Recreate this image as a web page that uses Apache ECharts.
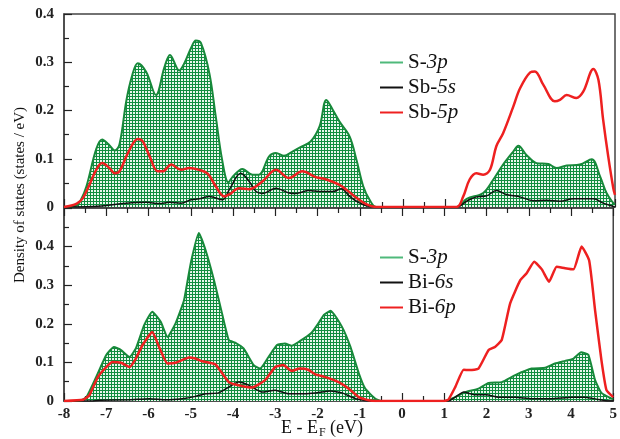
<!DOCTYPE html>
<html><head><meta charset="utf-8">
<script src="https://cdn.jsdelivr.net/npm/echarts@6/dist/echarts.min.js"></script>
<style>html,body{margin:0;padding:0;background:#fff}#c{width:620px;height:439px}</style>
</head><body><div id="c"></div>
<script>
// Top panel (Sb compound)
const topS3p = [[-8,0],[-7.7,0.003],[-7.6,0.015],[-7.47,0.043],[-7.24,0.12],[-7.1,0.14],[-6.95,0.13],[-6.8,0.117],[-6.69,0.13],[-6.53,0.22],[-6.4,0.27],[-6.26,0.298],[-6.06,0.28],[-5.83,0.232],[-5.63,0.29],[-5.5,0.315],[-5.28,0.283],[-5.16,0.298],[-5.0,0.33],[-4.89,0.345],[-4.77,0.34],[-4.57,0.277],[-4.42,0.188],[-4.27,0.098],[-4.12,0.051],[-4.02,0.063],[-3.79,0.079],[-3.55,0.067],[-3.4,0.067],[-3.16,0.105],[-3.0,0.112],[-2.81,0.106],[-2.61,0.115],[-2.42,0.124],[-2.18,0.136],[-1.97,0.167],[-1.81,0.222],[-1.65,0.2],[-1.5,0.177],[-1.26,0.146],[-1.1,0.098],[-0.94,0.043],[-0.79,0.015],[-0.63,0],[1.26,0],[1.5,0.017],[1.89,0.029],[2.13,0.057],[2.36,0.088],[2.6,0.115],[2.72,0.127],[2.91,0.108],[3.15,0.091],[3.43,0.089],[3.62,0.081],[3.86,0.086],[4.17,0.088],[4.45,0.099],[4.65,0.063],[4.8,0.029],[4.96,0.008],[5,0.005]];
const topSb5s = [[-8,0],[-7.3,0.001],[-6.53,0.008],[-6.06,0.01],[-5.75,0.007],[-5.51,0.01],[-5.24,0.008],[-5.0,0.015],[-4.81,0.017],[-4.57,0.022],[-4.26,0.015],[-4.1,0.036],[-3.83,0.07],[-3.63,0.053],[-3.47,0.032],[-3.32,0.028],[-3.0,0.039],[-2.69,0.029],[-2.53,0.028],[-2.22,0.034],[-1.98,0.032],[-1.65,0.032],[-1.46,0.038],[-1.26,0.022],[-1.02,0.008],[-0.71,0],[1.26,0],[1.5,0.012],[1.73,0.021],[1.97,0.023],[2.2,0.034],[2.44,0.026],[2.76,0.021],[3.07,0.013],[3.39,0.014],[3.7,0.012],[4.02,0.017],[4.49,0.017],[4.72,0.008],[4.96,0.001],[5,0]];
const topSb5p = [[-8,0],[-7.7,0.007],[-7.55,0.019],[-7.4,0.046],[-7.24,0.077],[-7.1,0.091],[-6.93,0.081],[-6.8,0.07],[-6.69,0.074],[-6.49,0.112],[-6.26,0.141],[-6.14,0.136],[-5.98,0.105],[-5.79,0.074],[-5.67,0.074],[-5.47,0.088],[-5.24,0.077],[-5.04,0.081],[-4.81,0.077],[-4.61,0.069],[-4.42,0.043],[-4.22,0.022],[-4.1,0.026],[-3.87,0.039],[-3.63,0.037],[-3.32,0.053],[-3.0,0.077],[-2.69,0.06],[-2.38,0.074],[-2.06,0.062],[-1.81,0.057],[-1.5,0.046],[-1.34,0.036],[-1.1,0.019],[-0.87,0.006],[-0.63,0],[1.26,0],[1.42,0.022],[1.57,0.057],[1.73,0.07],[1.89,0.067],[2.05,0.077],[2.2,0.126],[2.36,0.153],[2.6,0.208],[2.76,0.246],[3.0,0.279],[3.11,0.281],[3.31,0.253],[3.58,0.219],[3.7,0.222],[3.86,0.232],[4.09,0.226],[4.25,0.239],[4.49,0.286],[4.61,0.263],[4.72,0.181],[4.84,0.105],[4.96,0.039],[5,0.025]];
// Bottom panel (Bi compound)
const botS3p = [[-8,0],[-7.63,0],[-7.47,0.01],[-7.24,0.062],[-7.0,0.119],[-6.82,0.14],[-6.65,0.132],[-6.45,0.114],[-6.3,0.136],[-6.1,0.197],[-5.91,0.231],[-5.71,0.205],[-5.55,0.166],[-5.36,0.201],[-5.16,0.261],[-5.0,0.357],[-4.81,0.435],[-4.65,0.391],[-4.45,0.313],[-4.26,0.227],[-4.1,0.158],[-3.95,0.151],[-3.75,0.136],[-3.51,0.093],[-3.36,0.084],[-3.16,0.114],[-2.96,0.145],[-2.77,0.149],[-2.61,0.143],[-2.42,0.155],[-2.14,0.177],[-1.98,0.201],[-1.85,0.223],[-1.69,0.234],[-1.42,0.192],[-1.22,0.14],[-1.02,0.071],[-0.87,0.032],[-0.63,0.006],[-0.47,0],[1.02,0],[1.26,0.01],[1.5,0.023],[1.81,0.032],[2.05,0.047],[2.36,0.049],[2.68,0.067],[3.07,0.084],[3.39,0.086],[3.62,0.097],[3.86,0.104],[4.06,0.11],[4.24,0.126],[4.41,0.12],[4.57,0.054],[4.72,0.021],[4.96,0.006],[5,0.005]];
const botBi6s = [[-8,0],[-7.3,0],[-7.16,0.002],[-6.45,0.003],[-5.98,0.006],[-5.59,0.003],[-5.2,0.006],[-4.89,0.012],[-4.65,0.019],[-4.34,0.021],[-4.1,0.036],[-3.87,0.049],[-3.63,0.041],[-3.32,0.023],[-3.0,0.028],[-2.69,0.019],[-2.3,0.019],[-2.05,0.021],[-1.69,0.026],[-1.42,0.021],[-1.1,0.006],[-0.79,0],[1.1,0],[1.26,0.01],[1.46,0.023],[1.73,0.016],[2.0,0.016],[2.28,0.01],[2.68,0.01],[3.07,0.006],[3.54,0.006],[4.02,0.01],[4.33,0.01],[4.65,0.004],[4.88,0],[5,0]];
const botBi6p = [[-8,0],[-7.55,0.003],[-7.4,0.015],[-7.2,0.062],[-7.0,0.088],[-6.85,0.101],[-6.65,0.099],[-6.45,0.088],[-6.3,0.11],[-6.14,0.145],[-5.91,0.179],[-5.75,0.14],[-5.55,0.097],[-5.36,0.099],[-5.04,0.113],[-4.89,0.11],[-4.73,0.103],[-4.42,0.095],[-4.1,0.049],[-3.87,0.041],[-3.55,0.035],[-3.24,0.054],[-3.0,0.088],[-2.81,0.093],[-2.61,0.078],[-2.42,0.084],[-2.22,0.081],[-2.05,0.069],[-1.81,0.062],[-1.5,0.049],[-1.26,0.032],[-1.02,0.01],[-0.79,0.002],[-0.63,0],[0.98,0],[1.1,0.004],[1.26,0.036],[1.46,0.081],[1.61,0.08],[1.81,0.084],[2.05,0.132],[2.2,0.14],[2.36,0.158],[2.56,0.253],[2.8,0.313],[2.95,0.331],[3.13,0.361],[3.31,0.341],[3.48,0.309],[3.66,0.348],[3.86,0.344],[4.06,0.341],[4.25,0.4],[4.43,0.364],[4.57,0.235],[4.72,0.106],[4.84,0.028],[5.0,0.01]];
const topNames = ['S-3p','Sb-5s','Sb-5p'];
const botNames = ['S-3p','Bi-6s','Bi-6p'];

const pat = document.createElement('canvas');
pat.width = 3; pat.height = 3;
const pc = pat.getContext('2d');
pc.fillStyle = '#e8f6ec'; pc.fillRect(0,0,3,3);
pc.fillStyle = '#0f8c3e'; pc.fillRect(0,0,3,1); pc.fillRect(0,0,1,3);

const serif = 'Liberation Serif';
const axisCol = '#444444';
const tickCol = '#222222';
const GREEN = '#17893a', BLACK = '#111111', RED = '#ee2020';

function xAx(grid, pos, labels) {
  return {
    type:'value', gridIndex:grid, position:pos, min:-8, max:5, interval:1,
    axisLine:{show:true, onZero:false, lineStyle:{color:axisCol, width:1.5}},
    axisTick:{show:true, inside:true, length:8, lineStyle:{color:tickCol, width:1.2}},
    minorTick:{show:true, splitNumber:2, length:5, lineStyle:{color:tickCol, width:1.2}},
    splitLine:{show:false},
    axisLabel:{show:labels, color:'#222', fontFamily:serif, fontWeight:'bold', fontSize:15, margin:6}
  };
}
function yAx(grid, max) {
  return {
    type:'value', gridIndex:grid, position:'left', min:0, max:max, interval:0.1,
    axisLine:{show:true, onZero:false, lineStyle:{color:axisCol, width:1.5}},
    axisTick:{show:true, inside:true, length:8, lineStyle:{color:tickCol, width:1.2}},
    minorTick:{show:true, splitNumber:2, length:5, lineStyle:{color:tickCol, width:1.2}},
    splitLine:{show:false},
    axisLabel:{color:'#222', fontFamily:serif, fontWeight:'bold', fontSize:15, margin:10,
      formatter: v => { if (Math.abs(v) < 1e-9) return '0'; if (Math.abs(v-0.5) < 1e-9) return ''; return v.toFixed(1); }}
  };
}
function legend(names, top) {
  return {
    orient:'vertical', left:375, top:top, itemGap:4, itemWidth:23, itemHeight:2, icon:'rect',
    data:names.slice(),
    formatter: n => n.replace('-', '-{i|') + '}',
    textStyle:{fontFamily:serif, fontSize:21, color:'#111', lineHeight:20,
      rich:{i:{fontFamily:serif, fontStyle:'italic', fontSize:21, color:'#111', lineHeight:20}}},
    selectedMode:false
  };
}
function areaSeries(name, data, xi, yi, sm) {
  return {name, type:'line', xAxisIndex:xi, yAxisIndex:yi, data, smooth:sm, symbol:'none',
    itemStyle:{color:'#4fb97a'}, lineStyle:{color:GREEN, width:2}, areaStyle:{color:{image:pat, repeat:'repeat'}, opacity:1}};
}
function lineSeries(name, data, xi, yi, col, w, sm) {
  return {name, type:'line', xAxisIndex:xi, yAxisIndex:yi, data, smooth:sm, symbol:'none',
    itemStyle:{color:col}, lineStyle:{color:col, width:w}};
}

const chart = echarts.init(document.getElementById('c'), null, {renderer:'canvas'});
chart.setOption({
  animation:false,
  backgroundColor:'#ffffff',
  grid:[
    {left:64, right:5, top:14, height:193, show:true, borderColor:axisCol, borderWidth:1.5},
    {left:64, right:5, top:208, height:193, show:true, borderColor:axisCol, borderWidth:1.5}
  ],
  xAxis:[ xAx(0,'bottom',false), xAx(1,'bottom',true), xAx(1,'top',false) ],
  yAxis:[ yAx(0,0.4), yAx(1,0.5) ],
  legend:[ legend(topNames, 47), legend(botNames, 242) ],
  series:[
    areaSeries(topNames[0], topS3p, 0, 0, 0.35),
    lineSeries(topNames[1], topSb5s, 0, 0, BLACK, 1.5, 0.35),
    lineSeries(topNames[2], topSb5p, 0, 0, RED, 2.5, 0.35),
    areaSeries(botNames[0], botS3p, 1, 1, 0.15),
    lineSeries(botNames[1], botBi6s, 1, 1, BLACK, 1.5, 0.15),
    lineSeries(botNames[2], botBi6p, 1, 1, RED, 2.5, 0.15)
  ],
  graphic:[
    {type:'text', x:20, y:195, rotation:Math.PI/2,
      style:{text:'Density of states (states / eV)', font:'15px "Liberation Serif"', fill:'#111', align:'center', verticalAlign:'middle'}},
    {type:'text', x:318, y:428, style:{text:'E - E', font:'18px "Liberation Serif"', fill:'#111', align:'right', verticalAlign:'middle'}},
    {type:'text', x:319, y:433, style:{text:'F', font:'12px "Liberation Serif"', fill:'#111', align:'left', verticalAlign:'middle'}},
    {type:'text', x:330, y:428, style:{text:'(eV)', font:'18px "Liberation Serif"', fill:'#111', align:'left', verticalAlign:'middle'}}
  ]
});
</script></body></html>
